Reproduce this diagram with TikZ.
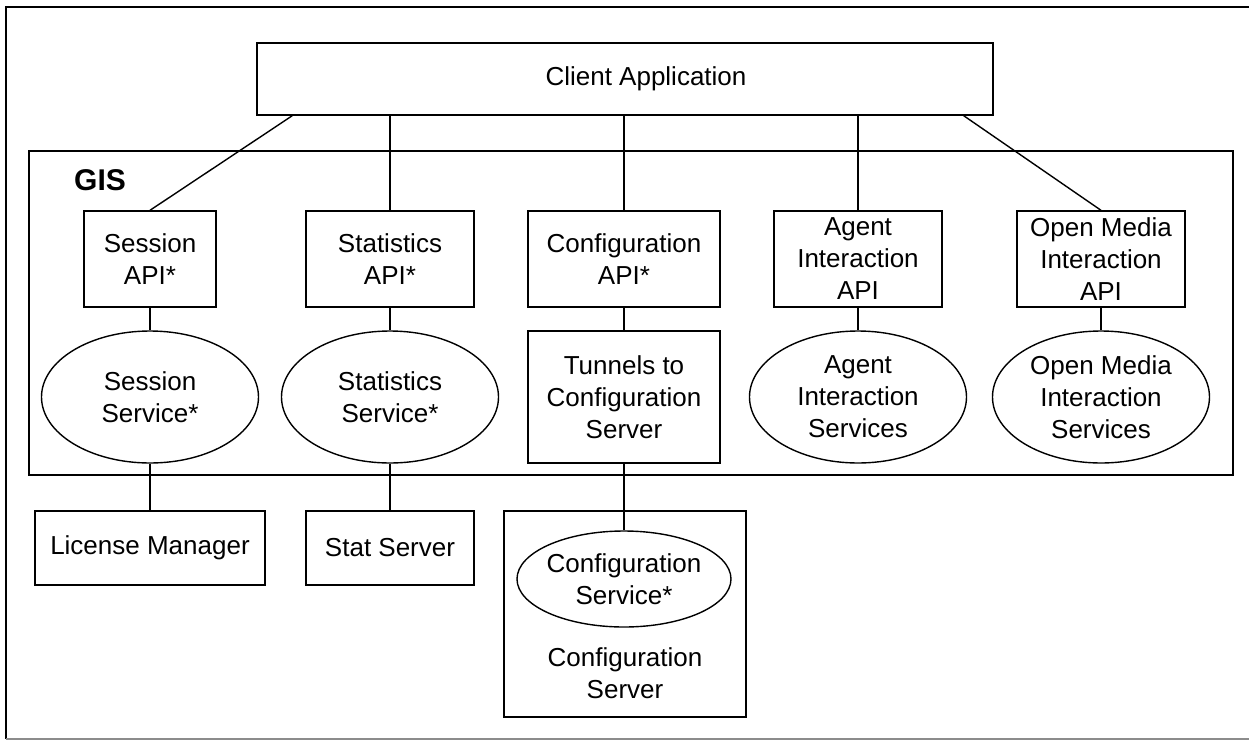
\documentclass[tikz,border=0pt]{standalone}
\usepackage{fontspec}
\setmainfont{Liberation Sans}
\usetikzlibrary{shapes.geometric,calc}

\begin{document}
\begin{tikzpicture}[x=0.5pt, y=-0.5pt, line width=0.7pt,
		every node/.style={font=\fontsize{13}{16}\selectfont, align=center},
		box/.style={draw, rectangle, inner sep=1pt},
		svc/.style={draw, ellipse, inner sep=-8pt, minimum width=108.5pt, minimum height=66pt}]
		\useasboundingbox (0,0) rectangle (1249,740);
		\draw (1249,7) -- (6,7) -- (6,739);
		\draw[black!45] (6,739) -- (1249,739);

		\node[box, minimum width=368pt, minimum height=36pt] (client) at (625,79) {\hspace*{21pt}Client Application};
		\node[box, minimum width=602pt, minimum height=162pt] (gis) at (631,313) {};
		\node[font=\fontsize{15}{18}\selectfont\bfseries] (gislabel) at (100,180) {GIS};

		\node[box, minimum width=66pt, minimum height=48pt] (sesapi) at (150,259) {Session\\API*};
		\node[box, minimum width=84pt, minimum height=48pt] (statapi) at (390,259) {Statistics\\API*};
		\node[box, minimum width=96pt, minimum height=48pt] (cfgapi) at (624,259) {Configuration\\API*};
		\node[box, minimum width=84pt, minimum height=48pt] (agentapi) at (858,259) {Agent\\Interaction\\API};
		\node[box, minimum width=84pt, minimum height=48pt] (omapi) at (1101,259) {Open Media\\Interaction\\API};

		\node[svc] (sessvc) at (150,397) {Session\\Service*};
		\node[svc] (statsvc) at (390,397) {Statistics\\Service*};
		\node[box, minimum width=96pt, minimum height=66pt] (tunnels) at (624,397) {Tunnels to\\Configuration\\Server};
		\node[svc] (agentsvc) at (858,397) {Agent\\Interaction\\Services};
		\node[svc] (omsvc) at (1101,397) {Open Media\\Interaction\\Services};

		\node[box, minimum width=115pt, minimum height=37pt] (licmgr) at (150,548) {License Manager};
		\node[box, minimum width=84pt, minimum height=37pt] (statsrv) at (390,548) {Stat Server};
		\node[box, minimum width=121pt, minimum height=103pt] (cfgsrv) at (625,614) {};
		\node[svc, minimum width=107pt, minimum height=48pt] (cfgsvc) at (624,579) {Configuration\\Service*};
		\node (cfgsrvlabel) at (625,673) {Configuration\\Server};

		\draw (sesapi.north) -- ($(client.south west)+(36,0)$);
		\draw (omapi.north) -- ($(client.south east)+(-30,0)$);
		\foreach \n in {statapi, cfgapi, agentapi}
			\draw (\n.north) -- (\n.north |- client.south);
		\foreach \a/\b in {sesapi/sessvc, statapi/statsvc, cfgapi/tunnels, agentapi/agentsvc, omapi/omsvc, sessvc/licmgr, statsvc/statsrv, tunnels/cfgsvc}
			\draw (\a.south) -- (\b.north);
	\end{tikzpicture}
\end{document}
